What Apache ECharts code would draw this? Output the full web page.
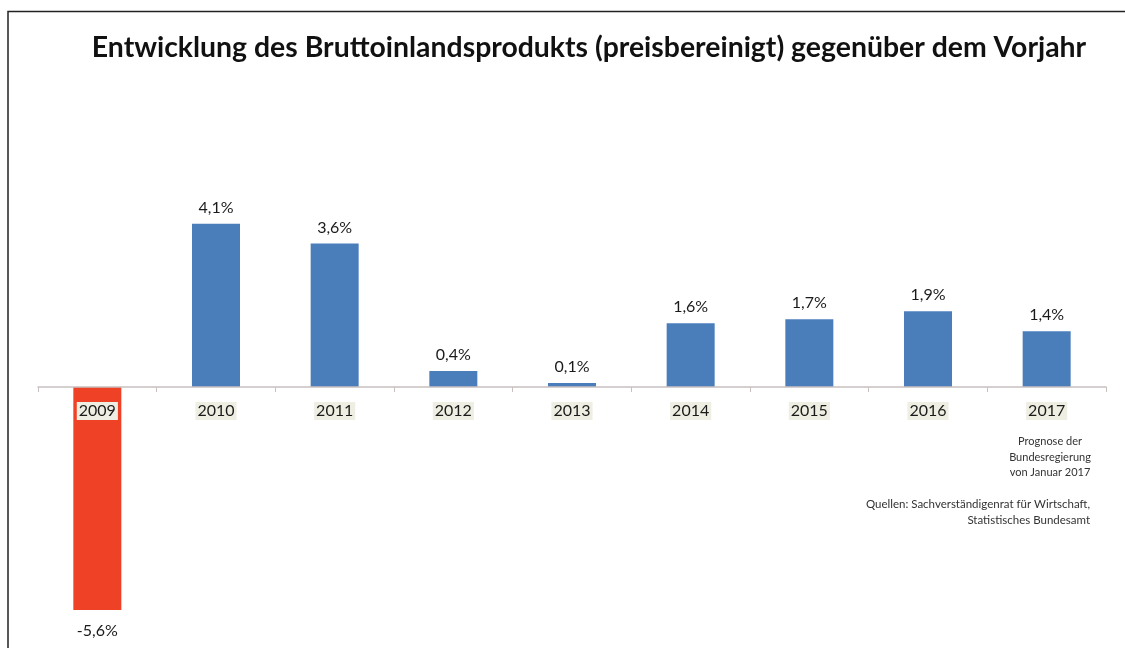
<!DOCTYPE html>
<html lang="de">
<head>
    <meta charset="UTF-8">
    <title>BIP Entwicklung</title>
    <script src="https://cdn.jsdelivr.net/npm/echarts@6/dist/echarts.min.js"></script>
    <style>
        html, body { margin: 0; padding: 0; background: #fff; }
    </style>
</head>
<body>
    <div id="main" style="width: 1125px;height:648px;"></div>
    <script type="text/javascript">
        const years = ['2009', '2010', '2011', '2012', '2013', '2014', '2015', '2016', '2017'];
        const growth = [-5.6, 4.1, 3.6, 0.4, 0.1, 1.6, 1.7, 1.9, 1.4];
        const noteLines = ['Prognose der', 'Bundesregierung', 'von Januar 2017'];
        const sourceLines = ['Quellen: Sachverständigenrat für Wirtschaft,', 'Statistisches Bundesamt'];

        const fontFam = 'Lato, "Open Sans", sans-serif';

        // grid: zero line should sit at y=387, ~39.8px per percent point
        const gridTop = 148;
        const gridBottom = 22;
        const yMin = -6, yMax = 6;
        const zeroY = gridTop + (648 - gridTop - gridBottom) * yMax / (yMax - yMin);

        const barData = growth.map((v) => ({
            value: v,
            itemStyle: { color: v < 0 ? '#ef4125' : '#4a7ebb' },
            label: { position: v < 0 ? 'bottom' : 'top', distance: v < 0 ? 13 : 8 }
        }));

        let options = {
            animation: false,
            backgroundColor: '#ffffff',
            title: {
                text: 'Entwicklung des Bruttoinlandsprodukts (preisbereinigt) gegenüber dem Vorjahr',
                left: 584,
                textAlign: 'center',
                top: 29,
                textStyle: { fontFamily: fontFam, fontWeight: 'bold', fontSize: 28.4, color: '#111' }
            },
            grid: { left: 38, right: 19, top: gridTop, bottom: gridBottom, outerBoundsMode: 'none' },
            xAxis: {
                type: 'category',
                data: years,
                offset: -(648 - gridBottom - zeroY),
                axisLine: { onZero: false, lineStyle: { color: '#c9c0c0', width: 1.5 } },
                axisTick: { show: true, length: 5, lineStyle: { color: '#c9c0c0' } },
                axisLabel: {
                    margin: 15,
                    fontFamily: fontFam,
                    fontSize: 16,
                    color: '#1a1a1a',
                    backgroundColor: '#efeee2',
                    padding: [1, 2]
                },
                z: 5
            },
            yAxis: {
                type: 'value',
                min: yMin,
                max: yMax,
                show: false,
                splitLine: { show: false }
            },
            series: [{
                type: 'bar',
                data: barData,
                barWidth: 48,
                label: {
                    show: true,
                    fontFamily: fontFam,
                    fontSize: 16,
                    color: '#1a1a1a',
                    formatter: (p) => p.value.toFixed(1).replace('.', ',') + '%'
                }
            }],
            graphic: [
                {
                    type: 'polyline',
                    shape: { points: [[8, 648], [8, 11.5], [1125, 11.5]] },
                    style: { stroke: '#222', lineWidth: 1.5, fill: null }
                },
                {
                    type: 'text',
                    x: 1050,
                    y: 434,
                    style: {
                        text: noteLines.join('\n'),
                        fontFamily: fontFam,
                        fontSize: 11,
                        lineHeight: 15.5,
                        fill: '#333',
                        align: 'center'
                    }
                },
                {
                    type: 'text',
                    x: 1090,
                    y: 497,
                    style: {
                        text: sourceLines.join('\n'),
                        fontFamily: fontFam,
                        fontSize: 11.5,
                        lineHeight: 15.5,
                        fill: '#333',
                        align: 'right'
                    }
                }
            ]
        };

        let myChart = echarts.init(document.getElementById('main'));
        myChart.setOption(options);
    </script>
</body>
</html>
